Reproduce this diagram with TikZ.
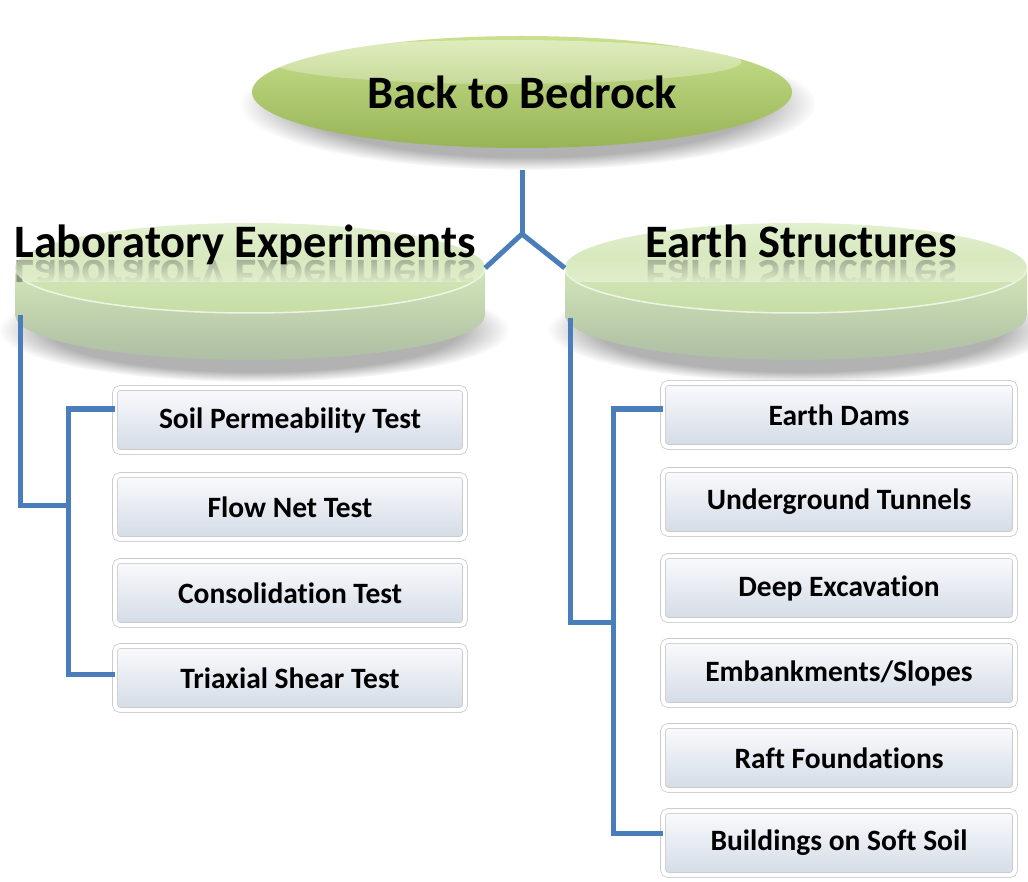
\documentclass[tikz,border=0pt]{standalone}
\usepackage{fontspec}
\setmainfont{Carlito}[Ligatures={NoCommon}]
\usetikzlibrary{shapes.geometric,shadows,fadings}
\definecolor{linecol}{HTML}{4A7EBB}
\definecolor{toptop}{HTML}{C9E08F}
\definecolor{topmid}{HTML}{B3CE70}
\definecolor{topbot}{HTML}{97B455}
\definecolor{facetop}{HTML}{E2F0CE}
\definecolor{facebot}{HTML}{C6DDA4}
\definecolor{sidetop}{HTML}{D2E6B8}
\definecolor{sidebot}{HTML}{AEBEA4}
\definecolor{boxtop}{HTML}{FAFBFD}
\definecolor{boxbot}{HTML}{D3DBE6}
\definecolor{reflcol}{HTML}{8A9480}
\begin{document}
\begin{tikzpicture}[x=1pt,y=-1pt,
  conn/.style={draw=linecol, line width=5pt},
  bigfont/.style={font=\fontsize{46.5}{52}\selectfont\bfseries},
  itembox/.style={rectangle, rounded corners=5pt, minimum width=350pt, minimum height=64pt,
    top color=boxtop, bottom color=boxbot, draw=black!20, double=white, double distance=4pt, line width=0.8pt,
    font=\fontsize{29.5}{32}\selectfont\bfseries, text=black,
    drop shadow={opacity=0.22, shadow xshift=1.5pt, shadow yshift=-2.5pt},
    path picture={\fill[black!38] (path picture bounding box.south west) rectangle ([yshift=3pt]path picture bounding box.south east);
                  \fill[black!15] (path picture bounding box.south west) rectangle ([xshift=2pt]path picture bounding box.north west);}},
  disctop/.style={ellipse, minimum width=470pt, minimum height=90pt, inner sep=0pt,
    top color=facetop, bottom color=facebot},
  reflect/.style={bigfont, anchor=base, yscale=-1, transform shape, text=reflcol},
  veil/.style={fill=facetop}
]
\useasboundingbox[fill=white] (0,0) rectangle (1028,882);

% ---------- top ellipse ----------
\fill[black, opacity=0.3, path fading=circle with fuzzy edge 20 percent] (528,104) ellipse (288 and 66);
\node[ellipse, minimum width=540pt, minimum height=112pt, inner sep=0pt,
  top color=toptop, middle color=topmid, bottom color=topbot, bigfont,
  path picture={\fill[white, opacity=0.45, path fading=south]
     ([xshift=-15pt, yshift=30pt]path picture bounding box.center) ellipse (235pt and 22pt);}]
  (top) at (522,92) {Back to Bedrock};

% ---------- left disc ----------
\fill[black, opacity=0.3, path fading=circle with fuzzy edge 20 percent] (254,330) ellipse (255 and 52);
\shade[top color=sidetop, bottom color=sidebot] (15,268) -- (15,315)
  arc[start angle=180, end angle=0, x radius=235, y radius=45] -- (485,268) -- cycle;
\node[disctop] (lab) at (250,268) {};
\draw[white, opacity=0.7, line width=1.5pt] (lab.west) arc[start angle=180, end angle=0, x radius=235, y radius=45];
\begin{scope}
  \clip (0,261) rectangle (1028,282);
  \node[reflect] at (245,261) {Laboratory Experiments};
  \clip (250,268) ellipse (235 and 45);
  \fill[veil, opacity=0.3] (0,259) rectangle (1028,284);
  \fill[veil, path fading=north] (0,259) rectangle (1028,284);
\end{scope}
\node[bigfont, anchor=base] (labtxt) at (245,258) {Laboratory Experiments};

% ---------- right disc ----------
\fill[black, opacity=0.3, path fading=circle with fuzzy edge 20 percent] (800,330) ellipse (252 and 52);
\shade[top color=sidetop, bottom color=sidebot] (565,268) -- (565,315)
  arc[start angle=180, end angle=0, x radius=231, y radius=45] -- (1027,268) -- cycle;
\node[disctop, minimum width=462pt] (earth) at (796,268) {};
\draw[white, opacity=0.7, line width=1.5pt] (earth.west) arc[start angle=180, end angle=0, x radius=231, y radius=45];
\begin{scope}
  \clip (0,261) rectangle (1028,282);
  \node[reflect] at (801,261) {Earth Structures};
  \clip (796,268) ellipse (231 and 45);
  \fill[veil, opacity=0.3] (0,259) rectangle (1028,284);
  \fill[veil, path fading=north] (0,259) rectangle (1028,284);
\end{scope}
\node[bigfont, anchor=base] (earthtxt) at (801,258) {Earth Structures};

% ---------- boxes ----------
\node[itembox] (L1) at (290,420) {Soil Permeability Test};
\node[itembox] (L2) at (290,507) {Flow Net Test};
\node[itembox] (L3) at (290,593) {Consolidation Test};
\node[itembox] (L4) at (290,678) {Triaxial Shear Test};

\node[itembox, minimum width=352pt] (R1) at (839,415) {Earth Dams};
\node[itembox, minimum width=352pt] (R2) at (839,502) {Underground Tunnels};
\node[itembox, minimum width=352pt] (R3) at (839,588) {Deep Excavation};
\node[itembox, minimum width=352pt] (R4) at (839,673) {Embankments/Slopes};
\node[itembox, minimum width=352pt] (R5) at (839,758) {Raft Foundations};
\node[itembox, minimum width=352pt] (R6) at (839,843) {Buildings on Soft Soil};

% ---------- connectors ----------
\coordinate (stem) at (522,170);
\coordinate (fork) at (522,234);
\draw[conn] (stem) -- (fork);
\draw[conn] (fork) -- (lab.east);
\draw[conn] (fork) -- (earth.west);

\coordinate (ldrop) at (20,315);
\coordinate (lelbow) at (20,505);
\coordinate (lmid) at (68,505);
\draw[conn] (ldrop) -- (lelbow) -- (lmid);
\draw[conn] ([yshift=11pt]L1.west) -| (lmid) |- ([yshift=4pt]L4.west);

\coordinate (rdrop) at (570,318);
\coordinate (relbow) at (570,622);
\coordinate (rmid) at (613,622);
\draw[conn] (rdrop) -- (relbow) -- (rmid);
\draw[conn] ([yshift=6pt]R1.west) -| (rmid) |- ([yshift=10pt]R6.west);
\end{tikzpicture}
\end{document}
